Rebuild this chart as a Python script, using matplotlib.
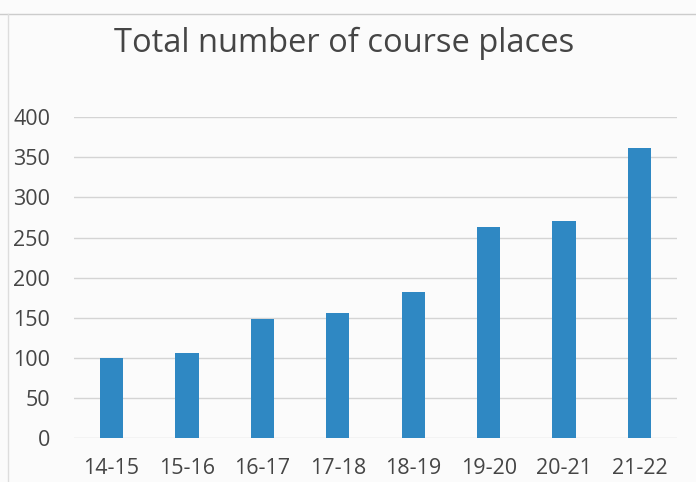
import matplotlib
matplotlib.use("Agg")
import matplotlib.pyplot as plt
import numpy as np

years = ["14-15", "15-16", "16-17", "17-18", "18-19", "19-20", "20-21", "21-22"]
places = [100, 106, 149, 156, 182, 263, 271, 361]
y_ticks = [0, 50, 100, 150, 200, 250, 300, 350, 400]

plt.rcParams["font.family"] = ["Open Sans", "DejaVu Sans"]

fig = plt.figure(figsize=(6.96, 4.82), dpi=100, facecolor="#fbfbfb")
ax = fig.add_axes([0.106, 0.091, 0.867, 0.666])
ax.set_facecolor("#fbfbfb")

x = np.arange(len(years))
ax.bar(x, places, width=0.31, color="#2f88c3", zorder=3)

ax.set_xlim(-0.5, len(years) - 0.5)
ax.set_ylim(0, 400)
ax.set_yticks(y_ticks)
ax.set_xticks(x)
ax.set_xticklabels(years)
ax.grid(axis="y", color="#d4d4d4", linewidth=1, zorder=0)
for s in ax.spines.values():
    s.set_visible(False)
ax.tick_params(length=0, labelsize=15.5, colors="#454545", pad=14)
ax.tick_params(axis="y", pad=17)

fig.text(0.495, 0.91, "Total number of course places", ha="center", va="center",
         fontsize=23.5, color="#454545")

# scanned chart border
fig.add_artist(plt.Line2D([0, 1], [0.971, 0.971], color="#cccccc", lw=1))
fig.add_artist(plt.Line2D([0.012, 0.012], [0, 0.971], color="#dddddd", lw=1))

fig.savefig("out.png", dpi=100, facecolor=fig.get_facecolor())
